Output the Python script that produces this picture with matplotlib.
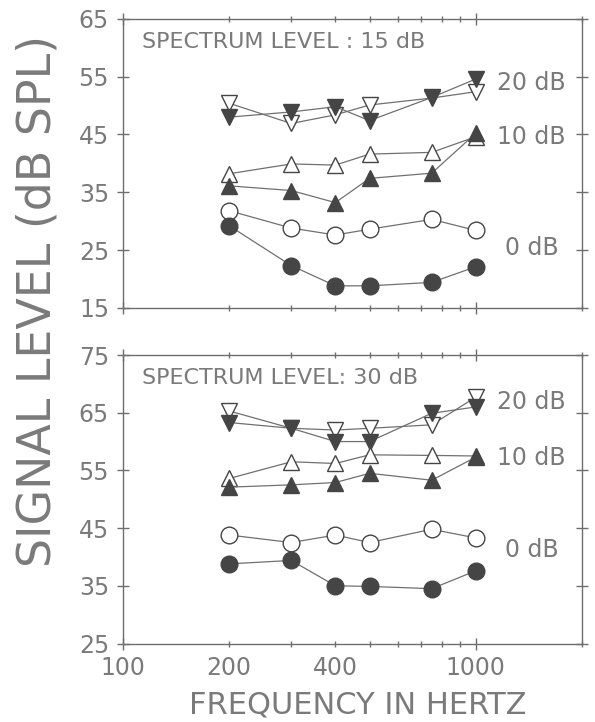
import numpy as np
import matplotlib
matplotlib.use("Agg")
import matplotlib.pyplot as plt
from matplotlib.ticker import FixedLocator, FuncFormatter, NullFormatter

# frequencies (Hz)
freqs = [200, 300, 400, 500, 750, 1000]

# spectrum level 15 dB
top_open_20 = [50.4, 46.9, 48.4, 50.1, 51.3, 52.4]
top_fill_20 = [48.0, 48.9, 49.8, 47.4, 51.4, 54.6]
top_open_10 = [38.2, 39.9, 39.7, 41.6, 41.9, 44.6]
top_fill_10 = [36.1, 35.3, 33.2, 37.4, 38.3, 45.2]
top_open_0 = [31.8, 28.8, 27.6, 28.6, 30.3, 28.4]
top_fill_0 = [29.2, 22.3, 18.8, 18.8, 19.4, 22.1]

# spectrum level 30 dB
bot_open_20 = [65.3, 62.3, 62.0, 62.3, 62.9, 67.7]
bot_fill_20 = [63.3, 62.3, 60.0, 60.0, 64.9, 66.0]
bot_open_10 = [53.6, 56.5, 56.2, 57.7, 57.6, 57.5]
bot_fill_10 = [52.1, 52.5, 52.9, 54.5, 53.3, 57.3]
bot_open_0 = [43.8, 42.5, 43.8, 42.5, 44.8, 43.3]
bot_fill_0 = [38.8, 39.4, 35.0, 34.9, 34.5, 37.6]

top_labels = [("20 dB", 53.9), ("10 dB", 44.6), ("0 dB", 25.3)]
bot_labels = [("20 dB", 66.9), ("10 dB", 57.1), ("0 dB", 41.2)]

GRAY = "#6e6e6e"
TXT = "#7a7a7a"
DARK = "#454545"
LINE = "#707070"

plt.rcParams['font.family'] = ['DejaVu Sans']

fig = plt.figure(figsize=(5.95, 7.22), dpi=100)
ax1 = fig.add_axes([0.2067, 0.5737, 0.7714, 0.4001])
ax2 = fig.add_axes([0.2067, 0.1087, 0.7714, 0.3996])


def draw(ax, series, labels, ylim, title, xlabels):
    for vals, marker, filled in series:
        ms = 12 if marker == 'o' else 11
        ax.plot(freqs, vals, color=LINE, lw=0.9, marker=marker, ms=ms,
                mfc=DARK if filled else 'white', mec=DARK, mew=1.0, zorder=3)
    ax.set_xscale('log')
    ax.set_xlim(100, 2000)
    ax.set_ylim(*ylim)
    ax.set_yticks(np.arange(ylim[0], ylim[1] + 1, 10))
    ax.xaxis.set_major_locator(FixedLocator([100, 1000]))
    ax.xaxis.set_minor_locator(FixedLocator([200, 300, 400, 500, 600, 700, 800, 900, 2000]))
    if xlabels:
        ax.xaxis.set_major_formatter(FuncFormatter(lambda v, p: "%d" % v))
        ax.xaxis.set_minor_formatter(FuncFormatter(lambda v, p: "%d" % v if v in (200, 400) else ""))
    else:
        ax.xaxis.set_major_formatter(NullFormatter())
        ax.xaxis.set_minor_formatter(NullFormatter())
    ax.tick_params(which='major', direction='inout', length=8, width=1, color=GRAY,
                   labelsize=17, labelcolor=TXT, top=True, right=True, pad=5)
    ax.tick_params(which='minor', direction='inout', length=4, width=1, color=GRAY,
                   labelsize=17, labelcolor=TXT, top=True, right=True, pad=7)
    ax.tick_params(axis='y', pad=6)
    for s in ax.spines.values():
        s.set_color(GRAY)
        s.set_linewidth(1.0)
    ax.text(0.042, 0.92, title, transform=ax.transAxes, fontsize=16,
            color=TXT, ha='left', va='center')
    for txt, y in labels:
        x = 1208 if txt.startswith("0") else 1147
        ax.text(x, y, txt, fontsize=17, color=TXT, ha='left', va='center')


draw(ax1, [(top_open_20, 'v', False), (top_fill_20, 'v', True),
           (top_open_10, '^', False), (top_fill_10, '^', True),
           (top_open_0, 'o', False), (top_fill_0, 'o', True)],
     top_labels, (15, 65), "SPECTRUM LEVEL : 15 dB", False)
draw(ax2, [(bot_open_20, 'v', False), (bot_fill_20, 'v', True),
           (bot_open_10, '^', False), (bot_fill_10, '^', True),
           (bot_open_0, 'o', False), (bot_fill_0, 'o', True)],
     bot_labels, (25, 75), "SPECTRUM LEVEL: 30 dB", True)

fig.text(0.602, 0.004, "FREQUENCY IN HERTZ", fontsize=22, color=TXT,
         ha='center', va='bottom')
fig.text(0.064, 0.583, "SIGNAL LEVEL (dB SPL)", fontsize=33, color=TXT,
         rotation=90, ha='center', va='center')

fig.savefig("out.png", dpi=100)
